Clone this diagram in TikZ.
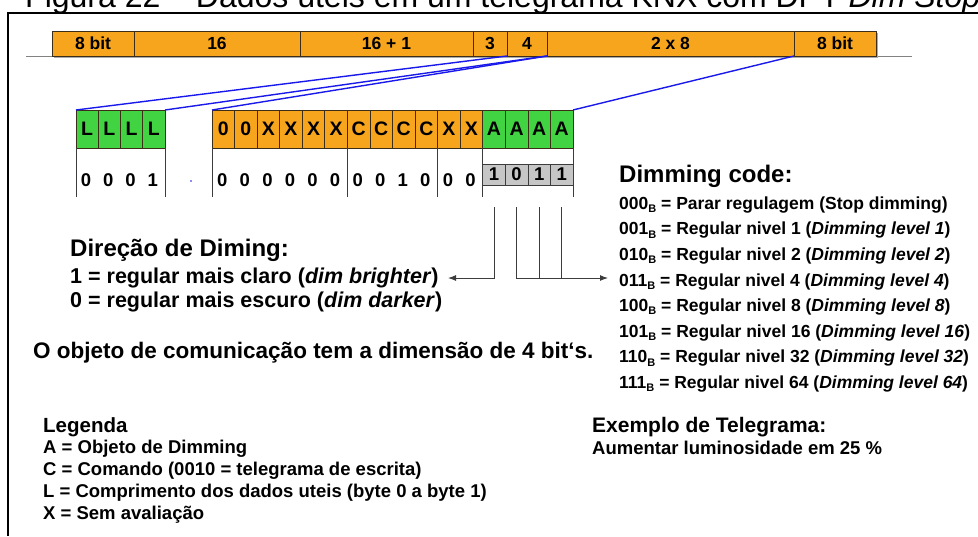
\documentclass[tikz,border=0pt]{standalone}
\usepackage{fontspec}
\setmainfont{Liberation Sans}
\usetikzlibrary{arrows.meta,calc}

\definecolor{fieldorange}{RGB}{247,165,28}
\definecolor{bitgreen}{RGB}{66,211,66}
\definecolor{bitgray}{RGB}{198,198,198}
\definecolor{celledge}{RGB}{60,45,25}
\definecolor{linkblue}{RGB}{25,25,235}
\definecolor{busgray}{RGB}{130,130,130}
\definecolor{inkgray}{RGB}{60,60,60}
\definecolor{shadowgray}{RGB}{170,170,170}

% subscript "B" marking a binary value
\newcommand{\binsub}{\raisebox{-0.18em}{\fontsize{11}{11}\selectfont B}}

\begin{document}
\begin{tikzpicture}[x=1pt,y=-1pt,
  field/.style={draw=celledge, fill=fieldorange, line width=0.9pt, inner sep=0pt,
    outer sep=0pt, minimum height=25pt, anchor=north west,
    font=\fontsize{17.5}{17.5}\selectfont\bfseries},
  bitcell/.style={draw=celledge, line width=0.7pt, inner sep=0pt, outer sep=0pt,
    minimum height=38pt, anchor=north west, font=\fontsize{19.5}{19.5}\selectfont\bfseries},
  graybit/.style={draw=inkgray, fill=bitgray, line width=0.7pt, inner sep=0pt, outer sep=0pt,
    minimum height=21pt, minimum width=22.56pt, anchor=north west,
    font=\fontsize{18.5}{18.5}\selectfont\bfseries},
  digit/.style={inner sep=0pt, font=\fontsize{18.5}{18.5}\selectfont\bfseries},
  sepline/.style={draw=inkgray, line width=0.8pt},
  link/.style={draw=linkblue, line width=1.4pt},
  pointer/.style={draw=inkgray, line width=1pt},
  tip/.style={-{Latex[length=8pt,width=6pt]}},
  head/.style={anchor=base west, inner sep=0pt, font=\fontsize{24}{24}\selectfont\bfseries},
  code/.style={anchor=base west, inner sep=0pt, font=\fontsize{17.5}{17.5}\selectfont\bfseries},
  body/.style={anchor=base west, inner sep=0pt, font=\fontsize{21.5}{21.5}\selectfont\bfseries},
  legend/.style={anchor=base west, inner sep=0pt, font=\fontsize{18.5}{18.5}\selectfont\bfseries}]

\useasboundingbox (0,0) rectangle (978,536);
\clip (0,0) rectangle (978,536);

% caption and frame
\node[anchor=base west, inner sep=0pt, font=\fontsize{32}{32}\selectfont] (caption) at (25,7.5)
  {Figura 22 -- Dados úteis em um telegrama KNX com DPT \textit{Dim Stop}};
\coordinate (frameTR) at (978,13);
\coordinate (frameTL) at (8,13);
\coordinate (frameBL) at (8,536);
\draw[line width=1.8pt] (frameTR) -- (frameTL) -- (frameBL);

% bus line under the telegram
\coordinate (busL) at (26,56);
\coordinate (busR) at (912,56);
\draw[busgray, line width=1pt] (busL) -- (busR);

% soft shadow under the telegram bar
\fill[shadowgray] (54,33) rectangle (878,58);

% telegram fields
\node[field, minimum width=82pt]  (ctrl) at (52,31)  {8 bit};
\node[field, minimum width=166pt] (src)  at (134,31) {16};
\node[field, minimum width=173pt] (dst)  at (300,31) {16 + 1};
\node[field, minimum width=34pt]  (rout) at (473,31) {3};
\node[field, minimum width=40pt]  (len)  at (507,31) {4};
\node[field, minimum width=247pt] (data) at (547,31) {2 x 8};
\node[field, minimum width=82pt]  (chk)  at (794,31) {8 bit};

% length bits
\foreach \i in {1,...,4}
  \node[bitcell, fill=bitgreen, minimum width=22.25pt] (l\i) at ({76+(\i-1)*22.25},110) {L};

% user data bits
\foreach \t [count=\i] in {0,0,X,X,X,X,C,C,C,C,X,X}
  \node[bitcell, fill=fieldorange, minimum width=22.56pt] (d\i) at ({212+(\i-1)*22.5625},110) {\t};
\foreach \i in {13,...,16}
  \node[bitcell, fill=bitgreen, minimum width=22.56pt] (d\i) at ({212+(\i-1)*22.5625},110) {A};

% values of the length bits
\foreach \v [count=\i] in {0,0,0,1}
  \node[digit] (lv\i) at ($(l\i.south)+(-1,32)$) {\v};

% values of the data bits
\foreach \v [count=\i] in {0,0,0,0,0,0,0,0,1,0,0,0}
  \node[digit] (dv\i) at ($(d\i.south)+(-1,32)$) {\v};
\foreach \v [count=\i from 13] in {1,0,1,1}
  \node[graybit] (g\i) at ({212+(\i-1)*22.5625},164) {\v};

% separators in the value row
\foreach \n in {l1.south west, l4.south east, d1.south west, d6.south east,
                d10.south east, d12.south east, d16.south east}
  \draw[sepline] (\n) -- ++(0,49);

% stray blue mark
\fill[linkblue] (191,181) circle (0.9pt);

% links from the telegram fields to the bit rows
\draw[link] (l1.north west) -- (len.south west);
\draw[link] (l4.north east) -- (len.south east);
\draw[link] (d1.north west) -- (data.south west);
\draw[link] (d16.north east) -- (data.south east);

% texts: direction of dimming
\node[head] (dirhead) at (70,256) {Direção de Diming:};
\node[body] (brighter) at (70,283.5) {1 = regular mais claro (\textit{dim brighter})};
\node[body] (darker) at (70,307.5) {0 = regular mais escuro (\textit{dim darker})};
\node[anchor=base west, inner sep=0pt, font=\fontsize{22.5}{22.5}\selectfont\bfseries] (size)
  at (33,358) {O objeto de comunicação tem a dimensão de 4 bit‘s.};

% texts: dimming code
\node[head] (codehead) at (619,182.5) {Dimming code:};
\node[code] (c0) at (619,209.3) {000\binsub{} = Parar regulagem (Stop dimming)};
\node[code] (c1) at (619,234.9) {001\binsub{} = Regular nivel 1 (\textit{Dimming level 1})};
\node[code] (c2) at (619,260.5) {010\binsub{} = Regular nivel 2 (\textit{Dimming level 2})};
\node[code] (c3) at (619,286.1) {011\binsub{} = Regular nivel 4 (\textit{Dimming level 4})};
\node[code] (c4) at (619,311.7) {100\binsub{} = Regular nivel 8 (\textit{Dimming level 8})};
\node[code] (c5) at (619,337.3) {101\binsub{} = Regular nivel 16 (\textit{Dimming level 16})};
\node[code] (c6) at (619,362.9) {110\binsub{} = Regular nivel 32 (\textit{Dimming level 32})};
\node[code] (c7) at (619,388.5) {111\binsub{} = Regular nivel 64 (\textit{Dimming level 64})};

% pointers from the dimming bits
\foreach \i in {13,...,16}
  \coordinate (t\i) at (g\i.south |- 0,207);
\coordinate (brighttip) at (448,278);
\coordinate (leveltip) at (608,278);
\draw[pointer, tip] (t13) |- (brighttip);
\draw[pointer, tip] (t14) |- (leveltip);
\draw[pointer] (t15) -- (t15 |- leveltip);
\draw[pointer] (t16) -- (t16 |- leveltip);

% legend
\node[anchor=base west, inner sep=0pt, font=\fontsize{20.5}{20.5}\selectfont\bfseries] (leghead)
  at (43,432) {Legenda};
\node[legend] (legA) at (43,453) {A = Objeto de Dimming};
\node[legend] (legC) at (43,475) {C = Comando (0010 = telegrama de escrita)};
\node[legend] (legL) at (43,497) {L = Comprimento dos dados uteis (byte 0 a byte 1)};
\node[legend] (legX) at (43,519) {X = Sem avaliação};

% example
\node[anchor=base west, inner sep=0pt, font=\fontsize{21}{21}\selectfont\bfseries] (exhead)
  at (592,432) {Exemplo de Telegrama:};
\node[anchor=base west, inner sep=0pt, font=\fontsize{18.5}{18.5}\selectfont\bfseries] (exbody)
  at (592,454) {Aumentar luminosidade em 25 \%};
\end{tikzpicture}
\end{document}
